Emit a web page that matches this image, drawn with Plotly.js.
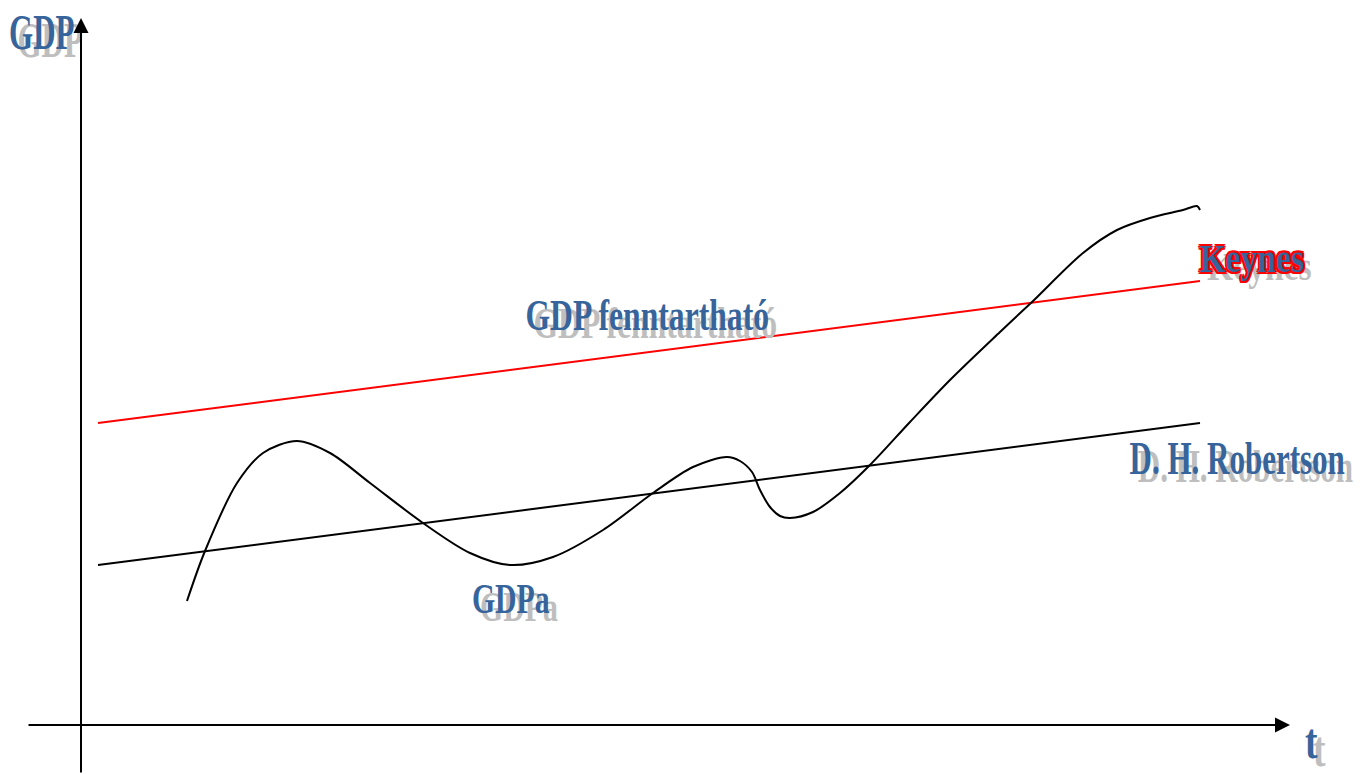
<!DOCTYPE html>
<html>
<head>
<meta charset="utf-8">
<script src="https://cdn.plot.ly/plotly-3.0.1.min.js"></script>
<style>
  html, body { margin: 0; padding: 0; background: #ffffff; }
  #chart { width: 1365px; height: 774px; }
</style>
</head>
<body>
<div id="chart"></div>
<script>
// ---- Data (t = time, GDP = output level, arbitrary units) ----
const gdpaT   = [1.06, 1.24, 1.56, 1.82, 2.16, 2.49, 2.89, 3.42, 3.89, 4.29, 4.72, 5.22, 5.72, 6.12, 6.46, 6.59, 6.71, 6.79, 6.89, 6.99, 7.09, 7.32, 7.59, 7.89, 8.29, 8.69, 9.19, 9.51, 10.02, 10.36, 10.69, 11.02, 11.16, 11.19];
const gdpaVal = [1.24, 1.74, 2.42, 2.72, 2.84, 2.72, 2.42, 2.02, 1.72, 1.60, 1.68, 1.95, 2.32, 2.58, 2.68, 2.64, 2.53, 2.35, 2.18, 2.09, 2.07, 2.13, 2.32, 2.60, 3.03, 3.45, 3.93, 4.23, 4.72, 4.95, 5.07, 5.15, 5.19, 5.15];

const keynesT   = [0.17, 11.19];
const keynesVal = [3.02, 4.44];

const robertsonT   = [0.17, 11.19];
const robertsonVal = [1.60, 3.02];

const labelTexts = ["GDP", "Keynes", "D. H. Robertson", "GDP fenntartható", "GDPa", "t"];

// ---- Styling ----
const BLUE = "#36649B";
const SHADOW = "#BEBEBE";

const traces = [
  { x: robertsonT, y: robertsonVal, mode: "lines", line: { color: "#000000", width: 2 }, hoverinfo: "skip", showlegend: false },
  { x: keynesT, y: keynesVal, mode: "lines", line: { color: "#FF0000", width: 2 }, hoverinfo: "skip", showlegend: false },
  { x: gdpaT, y: gdpaVal, mode: "lines", line: { color: "#000000", width: 2, shape: "spline", smoothing: 0.9 }, hoverinfo: "skip", showlegend: false }
];

// label placement (data coords), font size, horizontal compression
const labelPlace = [
  { t: -0.39, g: 6.93, size: 50, sx: 0.62 },
  { t: 11.71, g: 4.67, size: 41, sx: 0.82 },
  { t: 11.56, g: 2.67, size: 47, sx: 0.66 },
  { t: 5.66,  g: 4.10, size: 44, sx: 0.72 },
  { t: 4.30,  g: 1.26, size: 42, sx: 0.71 },
  { t: 12.30, g: -0.16, size: 50, sx: 0.75 }
];

function shadowFor(sx, outline) {
  const off = (7 / sx).toFixed(1) + "px 7px 0px " + SHADOW;
  if (!outline) return off;
  const r = "#FF0000";
  const d = 2.2, e = 1.6;
  return d + "px 0px 0px " + r + ", -" + d + "px 0px 0px " + r + ", 0px " + d + "px 0px " + r + ", 0px -" + d + "px 0px " + r +
         ", " + e + "px " + e + "px 0px " + r + ", -" + e + "px -" + e + "px 0px " + r + ", " + e + "px -" + e + "px 0px " + r + ", -" + e + "px " + e + "px 0px " + r + ", " + off;
}

const annotations = [];
labelTexts.forEach((txt, i) => {
  const p = labelPlace[i];
  annotations.push({
    x: p.t, y: p.g, xref: "x", yref: "y", text: txt, showarrow: false,
    xanchor: "center", yanchor: "middle",
    font: { family: "Liberation Serif, Times New Roman, serif", size: p.size, weight: "bold", color: BLUE,
            shadow: shadowFor(p.sx, txt === "Keynes") }
  });
});
// axis arrows (drawn on top of labels)
annotations.push(
  { x: 12.09, y: 0, ax: -0.54, ay: 0, xref: "x", yref: "y", axref: "x", ayref: "y", text: "",
    showarrow: true, arrowhead: 2, arrowwidth: 2, arrowsize: 1.5, arrowcolor: "#000000", standoff: 0 },
  { x: 0, y: 7.07, ax: 0, ay: -0.49, xref: "x", yref: "y", axref: "x", ayref: "y", text: "",
    showarrow: true, arrowhead: 2, arrowwidth: 2, arrowsize: 1.5, arrowcolor: "#000000", standoff: 0 }
);

const layout = {
  width: 1365, height: 774,
  margin: { l: 0, r: 0, t: 0, b: 0 },
  paper_bgcolor: "#ffffff", plot_bgcolor: "#ffffff",
  xaxis: { range: [-0.81, 12.84], visible: false, fixedrange: true },
  yaxis: { range: [-0.49, 7.25], visible: false, fixedrange: true },
  annotations: annotations,
  showlegend: false
};

Plotly.newPlot("chart", traces, layout, { staticPlot: true, displayModeBar: false }).then(gd => {
  gd.querySelectorAll(".annotation").forEach(g => {
    const li = +g.getAttribute("data-index");
    if (li < 0 || li >= labelPlace.length) return;
    const t = g.querySelector("text.annotation-text");
    if (!t) return;
    t.style.transformBox = "fill-box";
    t.style.transformOrigin = "center";
    t.style.transform = "scaleX(" + labelPlace[li].sx + ")";
  });
});
</script>
</body>
</html>
